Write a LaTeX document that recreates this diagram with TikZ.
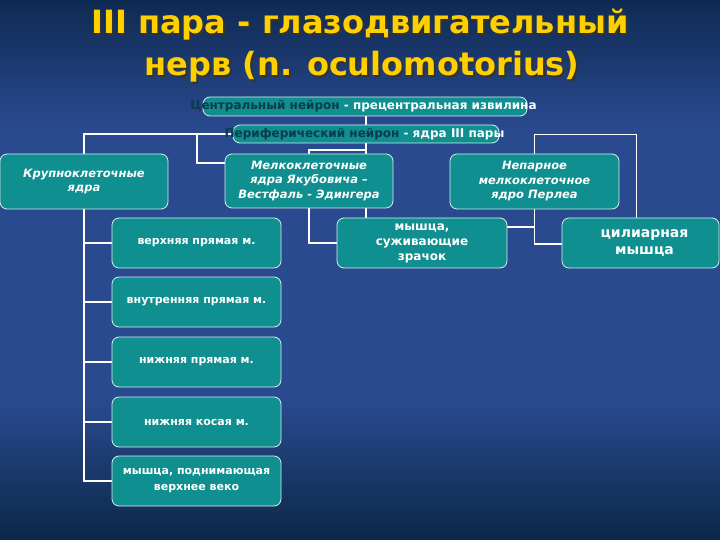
\documentclass[tikz,border=0pt]{standalone}
\usepackage{fontspec}
\setmainfont{DejaVu Sans}
\usetikzlibrary{calc}
\pgfdeclarelayer{bglayer}
\pgfdeclarelayer{connlayer}
\pgfsetlayers{bglayer,connlayer,main}
\definecolor{bgtop}{HTML}{0F2A52}
\definecolor{bgmid}{HTML}{2A4A90}
\definecolor{bgbot}{HTML}{0B2848}
\definecolor{boxfill}{HTML}{0F8F8F}
\definecolor{boxline}{HTML}{D8EEF0}
\definecolor{darktxt}{HTML}{0B3A4C}
\definecolor{titley}{HTML}{FFD000}
\tikzset{
  box/.style={draw=boxline, line width=0.8pt, fill=boxfill, rounded corners=7pt,
    text=white, align=center, inner sep=0pt, font=\bfseries},
  conn/.style={draw=white, line width=1.8pt},
  ttl/.style={text=titley, font=\bfseries\fontsize{32}{38}\selectfont, inner sep=0pt, anchor=base},
  ttlshadow/.style={text=black!80, font=\bfseries\fontsize{32}{38}\selectfont, inner sep=0pt, anchor=base},
  itl/.style={text=white, align=center, font=\bfseries\itshape\fontsize{11.5}{14.5}\selectfont},
  mus/.style={text=white, align=center, font=\bfseries\fontsize{11}{16}\selectfont},
}
\begin{document}
\begin{tikzpicture}[x=1pt,y=-1pt]
\useasboundingbox (0,0) rectangle (720,540);
% background
\begin{pgfonlayer}{bglayer}
\fill[top color=bgtop, bottom color=bgmid] (0,0) rectangle (720,130);
\fill[bgmid] (0,129.5) rectangle (720,400.5);
\fill[top color=bgmid, bottom color=bgbot] (0,400) rectangle (720,540);
\end{pgfonlayer}

% title
\node[ttlshadow] (t1s) at (362,36) {III пара - глазодвигательный};
\node[ttl] (t1) at (360,34) {III пара - глазодвигательный};
\node[ttlshadow] (t2s) at (364,78) {нерв (n. oculomotorius)};
\node[ttl] (t2) at (362,76) {нерв (n. oculomotorius)};

% boxes
\node[box, minimum width=324pt, minimum height=19pt] (central) at (365,106.5) {};
\node[box, minimum width=266pt, minimum height=18pt] (periph) at (366,134) {};
\node[box, minimum width=168pt, minimum height=55pt] (krup) at (84,181.5) {};
\node[box, minimum width=168pt, minimum height=54pt] (melk) at (309,181) {};
\node[box, minimum width=169pt, minimum height=55pt] (nepar) at (534.5,181.5) {};
\node[box, minimum width=169pt, minimum height=50pt] (m1) at (196.5,243) {};
\node[box, minimum width=169pt, minimum height=50pt] (m2) at (196.5,302) {};
\node[box, minimum width=169pt, minimum height=50pt] (m3) at (196.5,362) {};
\node[box, minimum width=169pt, minimum height=50pt] (m4) at (196.5,422) {};
\node[box, minimum width=169pt, minimum height=50pt] (m5) at (196.5,481) {};
\node[box, minimum width=170pt, minimum height=50pt] (zrach) at (422,243) {};
\node[box, minimum width=157pt, minimum height=50pt] (cil) at (640.5,243) {};

% connectors
\begin{pgfonlayer}{connlayer}
\draw[conn] (periph.north) -- (periph.north |- central.south);
\draw[conn] (periph.west) -| (krup.north);
\coordinate (j1) at ([xshift=-36pt]periph.west);
\draw[conn] (j1) |- ([yshift=18pt]melk.west);
\draw[conn] (periph.south) -- (periph.south |- zrach.north);
\draw[conn] (periph.south) -- ++(0,7) -| (melk.north);
\draw[conn] (melk.south) |- (zrach.west);
\draw[conn] (nepar.north) -- ++(0,-19) -| ([xshift=-4pt]cil.north);
\draw[conn] (nepar.south) |- ([yshift=-1pt]cil.west);
\draw[conn] ([yshift=16pt]zrach.east) -| (nepar.south);
\draw[conn] (krup.south) |- (m5.west);
\draw[conn] (krup.south |- m1.west) -- (m1.west);
\draw[conn] (krup.south |- m2.west) -- (m2.west);
\draw[conn] (krup.south |- m3.west) -- (m3.west);
\draw[conn] (krup.south |- m4.west) -- (m4.west);
\end{pgfonlayer}

% texts
\node[font=\bfseries\fontsize{12}{14}\selectfont, inner sep=0pt] (centraltxt) at ([xshift=-1.5pt]central.center)
  {\textcolor{darktxt}{Центральный нейрон} \textcolor{white}{- прецентральная извилина}};
\node[font=\bfseries\fontsize{12}{14}\selectfont, inner sep=0pt] (periphtxt) at ([xshift=-1.5pt]periph.center)
  {\textcolor{darktxt}{Периферический нейрон} \textcolor{white}{- ядра III пары}};
\node[itl] (kruptxt) at (krup.center) {Крупноклеточные\\ядра};
\node[itl] (melktxt) at (melk.center) {Мелкоклеточные\\ядра Якубовича –\\Вестфаль - Эдингера};
\node[itl] (nepartxt) at (nepar.center) {Непарное\\мелкоклеточное\\ядро Перлеа};
\node[mus] (m1t) at (m1.center) {верхняя прямая м.};
\node[mus] (m2t) at (m2.center) {внутренняя прямая м.};
\node[mus] (m3t) at (m3.center) {нижняя прямая м.};
\node[mus] (m4t) at (m4.center) {нижняя косая м.};
\node[mus] (m5t) at (m5.center) {мышца, поднимающая\\верхнее веко};
\node[text=white, align=center, font=\bfseries\fontsize{12}{15}\selectfont] (zracht) at (zrach.center) {мышца,\\суживающие\\зрачок};
\node[text=white, align=center, font=\bfseries\fontsize{14}{16.5}\selectfont] (cilt) at ([xshift=4pt]cil.center) {цилиарная\\мышца};
\end{tikzpicture}
\end{document}
